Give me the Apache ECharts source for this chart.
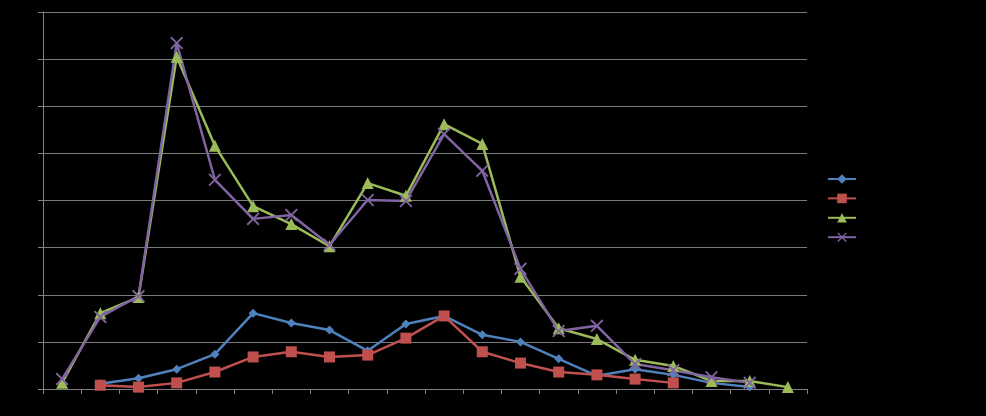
<!DOCTYPE html>
<html><head><meta charset="utf-8">
<script src="https://cdn.jsdelivr.net/npm/echarts@6/dist/echarts.min.js"></script>
<style>html,body{margin:0;padding:0;background:#000;}#c{width:986px;height:416px;}</style>
</head><body><div id="c"></div>
<script>
const categories = ['1','2','3','4','5','6','7','8','9','10','11','12','13','14','15','16','17','18','19','20'];
const seriesNames = ['Series1','Series2','Series3','Series4'];
const blueVals = [null,0.11,0.23,0.42,0.74,1.61,1.40,1.25,0.81,1.38,1.55,1.15,1.00,0.64,0.28,0.42,0.30,0.13,0.04,null];
const redVals = [null,0.08,0.04,0.13,0.36,0.68,0.79,0.68,0.72,1.08,1.55,0.79,0.55,0.36,0.30,0.21,0.13,null,null,null];
const greenVals = [0.13,1.61,1.95,7.05,5.16,3.88,3.50,3.03,4.37,4.10,5.62,5.20,2.38,1.29,1.06,0.62,0.49,0.17,0.17,0.04];
const purpleVals = [0.21,1.53,1.97,7.34,4.44,3.61,3.69,3.06,4.01,3.99,5.41,4.63,2.55,1.23,1.34,0.53,0.40,0.25,0.13,null];

const crossPath = 'path://M0,1L1,0L5,4L9,0L10,1L6,5L10,9L9,10L5,6L1,10L0,9L4,5Z';
const colors = ['#4F81BD','#C0504D','#9BBB59','#8064A2'];
const symbols = ['diamond','rect','triangle',crossPath];
const sizes = [9,11,12,13];
const vals = [blueVals, redVals, greenVals, purpleVals];

const chart = echarts.init(document.getElementById('c'));
chart.setOption({
  backgroundColor:'#000',
  animation:false,
  grid:{left:43,right:179,top:12,bottom:27},
  legend:{
    orient:'vertical', left:822, top:168, itemWidth:28, itemHeight:12, itemGap:8.6,
    formatter:()=>'', data:seriesNames, textStyle:{color:'#000'}
  },
  xAxis:{
    type:'category', data:categories, boundaryGap:true,
    axisLine:{lineStyle:{color:'#7f7f7f',width:1}},
    axisTick:{show:true,length:5,lineStyle:{color:'#7f7f7f'}},
    axisLabel:{show:false}, splitLine:{show:false}
  },
  yAxis:{
    type:'value', min:0, max:8, interval:1,
    axisLine:{show:true,lineStyle:{color:'#7f7f7f',width:1}},
    axisTick:{show:true,length:5,lineStyle:{color:'#7f7f7f'}},
    axisLabel:{show:false},
    splitLine:{lineStyle:{color:'#7a7a7a',width:1}}
  },
  series: seriesNames.map((n,i)=>({
    name:n, type:'line', data:vals[i], symbol:symbols[i], symbolSize:sizes[i],
    showAllSymbol:true, connectNulls:false,
    lineStyle:{color:colors[i],width:2.5},
    itemStyle:{color:colors[i]}
  }))
});
</script></body></html>
